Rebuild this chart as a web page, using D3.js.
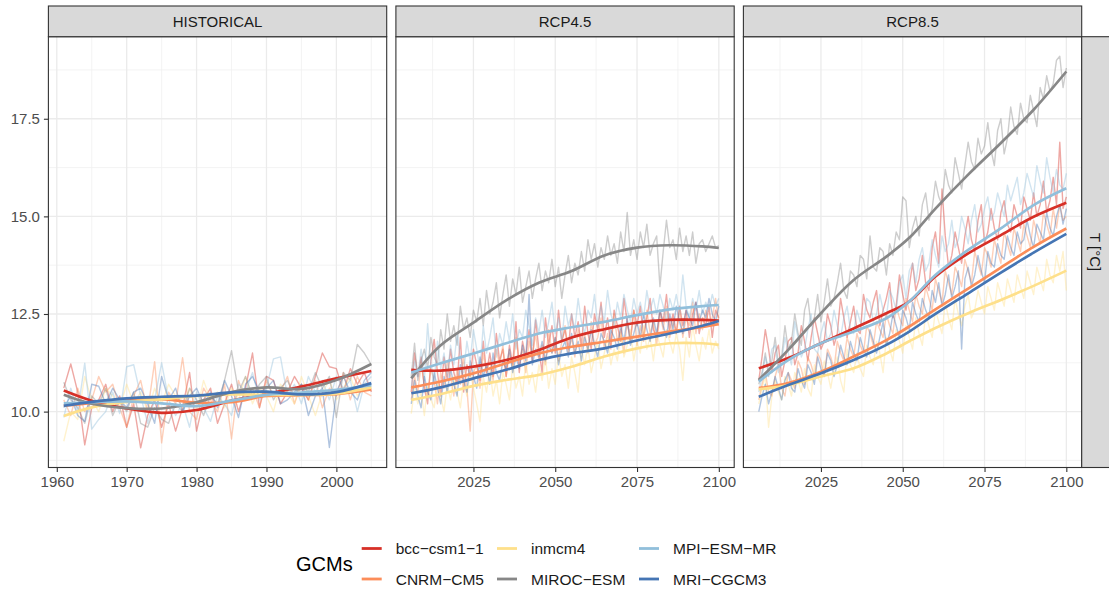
<!DOCTYPE html>
<html>
<head>
<meta charset="utf-8">
<script src="https://cdn.jsdelivr.net/npm/d3@7/dist/d3.min.js"></script>
<style>
  body { margin: 0; background: #fff; }
  text { font-family: "Liberation Sans", Arial, Helvetica, sans-serif; }
</style>
</head>
<body>
<div id="chart"></div>
<script>
// categories
const gcms = ['bcc-csm1-1', 'CNRM-CM5', 'inmcm4', 'MIROC-ESM', 'MPI-ESM-MR', 'MRI-CGCM3'];
const gcmColors = ['#d73027', '#fc8d59', '#fee08b', '#878787', '#91bfdb', '#4575b4'];
const scenarios = ['HISTORICAL', 'RCP4.5', 'RCP8.5'];
const histYears = d3.range(1961, 2006);
const rcpYears = d3.range(2006, 2101);

// annual temperatures, HISTORICAL 1961-2005
const histBcc = [10.6, 11.22, 10.5, 9.15, 10.1, 10.3, 10.7, 10.0, 10.4, 9.6, 10.2, 9.07, 9.9, 10.3, 9.6, 10.2, 9.5, 10.1, 11.0, 9.5, 10.3, 10.6, 9.7, 10.2, 10.7, 10.0, 10.6, 11.5, 10.1, 10.9, 10.8, 10.2, 10.5, 10.9, 10.6, 10.3, 10.9, 11.5, 11.15, 11.1, 10.5, 11.1, 10.7, 11.0, 10.5];
const histCnrm = [10.3, 9.9, 10.6, 10.0, 10.3, 10.9, 10.5, 10.7, 10.1, 9.6, 10.4, 10.8, 10.0, 11.28, 9.2, 10.5, 10.2, 11.38, 10.0, 9.8, 10.6, 10.3, 10.0, 10.7, 9.3, 10.8, 10.3, 10.6, 10.1, 10.8, 10.4, 10.5, 10.9, 10.2, 10.7, 10.3, 10.8, 10.1, 10.6, 10.4, 11.0, 10.3, 10.9, 10.5, 10.4];
const histInm = [9.24, 10.0, 9.8, 10.9, 10.3, 10.0, 10.6, 10.4, 10.1, 10.7, 10.2, 10.5, 10.0, 10.6, 10.2, 10.7, 10.4, 10.1, 10.6, 10.0, 10.8, 10.3, 10.5, 10.1, 10.6, 10.3, 10.9, 10.2, 10.6, 10.4, 10.0, 10.7, 10.5, 10.2, 10.9, 10.4, 9.9, 10.5, 10.8, 10.3, 10.6, 10.9, 10.4, 10.7, 10.6];
const histMiroc = [10.75, 10.3, 10.1, 9.7, 10.4, 10.2, 10.6, 9.9, 10.3, 10.0, 10.5, 9.7, 9.6, 10.1, 9.8, 9.7, 10.2, 10.0, 10.6, 10.3, 9.9, 10.4, 10.2, 10.8, 11.56, 10.5, 10.9, 10.4, 10.7, 10.9, 10.3, 10.6, 10.8, 10.4, 10.7, 10.5, 11.0, 10.6, 10.9, 9.85, 11.0, 10.8, 11.72, 11.5, 11.2];
const histMpi = [9.85, 10.6, 10.0, 11.24, 9.55, 9.8, 10.0, 10.5, 9.95, 11.15, 11.2, 10.4, 9.7, 10.3, 11.25, 10.3, 9.9, 10.2, 9.6, 10.5, 10.1, 9.75, 10.4, 10.2, 9.9, 10.7, 10.5, 11.0, 10.3, 10.6, 11.35, 11.4, 10.4, 10.7, 10.2, 10.9, 10.5, 10.8, 10.3, 10.9, 10.6, 10.8, 10.0, 10.7, 10.9];
const histMri = [10.1, 10.4, 9.9, 9.75, 10.7, 10.65, 10.2, 10.6, 10.3, 10.1, 10.5, 10.6, 10.2, 9.7, 10.9, 10.3, 10.6, 10.0, 10.4, 10.6, 10.2, 10.5, 10.1, 10.8, 10.4, 9.85, 10.7, 10.9, 10.5, 10.6, 10.8, 10.2, 10.3, 10.5, 10.7, 9.9, 10.4, 10.6, 9.08, 10.5, 10.9, 10.5, 10.3, 10.8, 11.0];

// annual temperatures, RCP4.5 2006-2100
const rcp45Bcc = [10.5, 11.5, 10.9, 11.4, 10.6, 10.2, 11.3, 11.85, 11.0, 10.4, 11.4, 10.8, 11.6, 11.0, 10.7, 11.9, 10.5, 11.2, 10.9, 11.6, 11.2, 10.8, 11.8, 11.0, 11.5, 10.9, 12.0, 11.3, 11.6, 10.9, 11.7, 11.2, 12.3, 11.0, 11.8, 11.4, 12.1, 11.3, 12.35, 11.6, 11.0, 12.4, 11.7, 12.2, 11.5, 12.6, 11.8, 12.1, 11.6, 12.5, 11.9, 12.3, 11.7, 12.7, 12.0, 11.6, 12.5, 12.1, 12.8, 11.9, 12.4, 11.7, 12.6, 12.2, 11.8, 12.9, 12.3, 11.8, 12.6, 12.2, 12.7, 11.9, 12.4, 12.9, 12.1, 11.9, 12.6, 12.3, 13.0, 12.1, 12.5, 12.0, 12.7, 12.2, 12.6, 11.9, 12.5, 12.8, 12.0, 12.4, 12.2, 12.7, 11.9, 12.6, 12.4];
const rcp45Cnrm = [10.3, 10.9, 10.5, 11.2, 10.7, 10.4, 11.1, 10.8, 10.2, 11.0, 10.6, 11.3, 10.9, 10.4, 11.1, 10.7, 11.4, 10.6, 9.5, 11.0, 11.2, 10.6, 11.5, 11.0, 11.3, 10.8, 11.6, 11.2, 11.7, 10.9, 11.5, 11.1, 11.9, 11.3, 11.6, 11.0, 11.8, 11.4, 12.0, 11.3, 11.7, 11.2, 12.1, 11.5, 11.9, 11.3, 11.8, 12.2, 11.5, 11.9, 11.4, 12.1, 11.6, 12.0, 11.5, 12.3, 11.7, 11.9, 12.4, 11.6, 12.0, 11.6, 12.5, 11.8, 12.1, 11.5, 12.3, 11.9, 12.6, 11.7, 12.2, 11.8, 12.6, 12.0, 12.3, 11.7, 12.5, 12.1, 12.7, 11.9, 12.3, 12.0, 12.6, 11.9, 12.4, 12.2, 12.8, 12.0, 12.5, 12.1, 12.6, 12.2, 12.4, 12.9, 12.3];
const rcp45Inm = [9.95, 10.6, 10.2, 10.5, 9.9, 10.7, 10.3, 10.1, 10.8, 10.4, 10.0, 10.7, 10.3, 10.9, 10.5, 10.1, 10.8, 10.4, 11.0, 10.6, 10.2, 9.74, 10.9, 10.5, 11.1, 10.4, 10.8, 10.2, 11.0, 10.7, 10.3, 11.2, 10.6, 10.9, 10.4, 11.3, 10.7, 11.0, 10.5, 11.2, 10.8, 11.4, 10.6, 11.1, 10.7, 11.5, 10.9, 11.2, 10.6, 11.4, 11.0, 10.5, 11.6, 11.2, 11.7, 11.0, 11.4, 11.8, 11.1, 11.5, 11.9, 11.2, 11.6, 11.3, 12.0, 11.4, 11.7, 12.1, 11.3, 11.8, 11.5, 12.2, 11.6, 11.9, 11.3, 12.0, 11.7, 11.4, 12.1, 11.8, 11.5, 12.0, 11.6, 10.8, 11.9, 11.4, 12.2, 11.7, 11.3, 11.9, 11.6, 12.1, 11.5, 11.8, 11.6];
const rcp45Miroc = [10.9, 11.75, 10.8, 11.3, 11.6, 11.1, 11.9, 11.4, 11.2, 12.1, 11.6, 12.5, 11.8, 12.2, 11.7, 12.7, 12.1, 12.4, 11.9, 12.6, 12.3, 12.9, 12.2, 13.1, 12.5, 12.8, 13.3, 12.4, 13.0, 13.5, 12.7, 13.4, 13.0, 13.7, 12.8, 13.2, 13.6, 12.9, 13.4, 13.8, 13.1, 13.6, 13.3, 13.9, 13.2, 13.7, 12.9, 13.5, 14.0, 13.3, 13.8, 13.5, 14.1, 13.6, 14.4, 13.9, 14.3, 13.7, 14.2, 13.9, 14.5, 14.0, 14.3, 13.8, 14.6, 14.1, 15.1, 14.0, 14.4, 13.9, 14.6, 14.2, 14.8, 14.0, 14.3, 14.5, 13.2, 14.1, 14.9, 14.2, 14.4, 13.9, 14.7, 14.1, 14.5, 14.0, 14.6, 13.8, 14.3, 14.4, 14.1, 14.3, 14.5, 14.2, 14.25];
const rcp45Mpi = [10.6, 11.3, 10.9, 11.6, 10.8, 12.25, 11.2, 10.7, 11.8, 11.1, 11.5, 10.9, 11.7, 11.2, 12.0, 11.4, 11.0, 11.8, 11.3, 12.1, 11.6, 11.1, 12.2, 11.5, 11.9, 12.4, 11.4, 12.0, 11.7, 12.3, 11.8, 12.5, 11.6, 12.1, 11.9, 12.6, 12.2, 11.7, 12.4, 12.0, 12.6, 11.9, 12.3, 12.8, 12.0, 12.4, 11.8, 12.7, 12.2, 12.5, 12.1, 12.9, 12.3, 12.0, 12.6, 12.4, 13.0, 12.2, 12.7, 12.3, 13.1, 12.5, 12.2, 12.8, 12.4, 13.0, 12.6, 12.3, 12.9, 12.5, 12.8, 12.4, 13.1, 12.6, 12.9, 12.5, 13.0, 12.7, 12.3, 12.9, 12.6, 13.0, 12.5, 13.5, 12.7, 12.4, 12.9, 12.6, 13.1, 12.5, 12.8, 12.6, 13.0, 12.7, 12.9];
const rcp45Mri = [10.2, 10.8, 10.4, 10.1, 10.9, 10.5, 10.3, 11.0, 10.6, 10.2, 10.9, 10.5, 11.1, 10.7, 10.4, 11.2, 10.8, 10.5, 11.3, 10.9, 10.6, 11.4, 10.9, 11.2, 10.7, 11.5, 11.0, 10.8, 11.3, 11.1, 11.6, 11.0, 11.4, 11.1, 11.7, 11.3, 13.0, 11.2, 11.6, 11.4, 11.8, 11.3, 11.7, 11.5, 11.9, 11.2, 11.6, 11.8, 11.4, 12.0, 11.5, 11.8, 11.3, 11.9, 11.6, 12.1, 11.7, 11.4, 12.0, 11.8, 11.5, 12.1, 11.9, 11.6, 12.2, 11.8, 12.4, 11.7, 12.0, 12.3, 11.9, 12.5, 12.1, 11.8, 12.4, 12.0, 12.6, 12.2, 11.9, 12.5, 12.1, 12.7, 12.3, 12.0, 12.6, 12.4, 12.2, 12.8, 12.3, 12.6, 12.4, 12.9, 12.5, 12.3, 12.7];

// annual temperatures, RCP8.5 2006-2100
const rcp85Bcc = [10.8, 11.4, 12.1, 11.6, 11.0, 11.5, 11.7, 10.9, 11.3, 11.8, 11.9, 11.2, 11.5, 12.2, 11.8, 11.3, 11.9, 12.4, 12.0, 11.6, 11.8, 12.5, 12.2, 11.7, 12.0, 12.9, 12.4, 11.9, 12.3, 12.7, 12.1, 12.0, 13.0, 12.6, 12.4, 12.8, 13.1, 12.2, 12.6, 12.9, 13.3, 12.4, 12.7, 13.5, 13.0, 12.6, 13.2, 13.8, 13.1, 13.4, 14.0, 13.3, 13.1, 14.2, 14.6, 13.8, 15.7, 14.5, 13.7, 14.0, 14.6, 14.2, 13.8, 14.5, 15.0, 14.4, 14.1, 14.9, 15.3, 14.3, 14.6, 15.2, 14.7, 14.4, 15.1, 15.4, 14.8, 14.6, 15.3, 15.0, 14.7, 15.5, 15.2, 14.9, 15.6, 15.0, 15.3, 15.9, 15.1, 15.4, 16.0, 15.3, 16.9, 15.2, 15.5];
const rcp85Cnrm = [10.3, 10.7, 11.0, 10.5, 10.4, 10.9, 11.2, 10.6, 10.4, 11.0, 10.8, 10.6, 11.3, 11.1, 10.7, 11.4, 11.2, 10.9, 11.5, 11.3, 10.9, 11.6, 11.4, 11.1, 11.8, 11.5, 11.3, 11.9, 11.6, 11.4, 12.0, 11.7, 11.5, 12.2, 12.0, 11.7, 12.3, 12.1, 11.9, 12.5, 12.2, 12.0, 12.7, 12.4, 12.2, 12.9, 12.6, 12.3, 13.0, 12.7, 12.5, 13.2, 12.9, 12.6, 13.4, 13.1, 12.8, 13.6, 13.3, 13.0, 13.7, 13.5, 13.2, 13.9, 13.6, 13.3, 14.1, 13.8, 13.5, 14.2, 14.0, 13.7, 14.4, 14.1, 13.8, 14.6, 14.3, 14.0, 14.7, 14.4, 14.1, 14.8, 14.5, 14.2, 14.9, 14.6, 14.3, 15.1, 14.8, 14.5, 15.2, 14.7, 15.3, 14.9, 15.0];
const rcp85Inm = [10.2, 10.6, 10.9, 9.6, 10.4, 10.8, 10.5, 10.3, 10.9, 10.7, 10.4, 11.0, 10.8, 10.5, 11.1, 10.6, 10.4, 11.2, 10.9, 10.7, 11.3, 11.0, 10.6, 11.1, 11.4, 10.8, 10.5, 11.6, 11.2, 11.0, 11.5, 11.1, 10.9, 11.7, 11.4, 11.2, 11.8, 11.5, 11.0, 11.9, 11.6, 11.3, 12.1, 11.8, 11.5, 12.2, 11.9, 11.6, 12.4, 12.0, 11.7, 12.5, 12.2, 11.9, 12.6, 12.3, 12.0, 12.8, 12.4, 12.1, 12.9, 12.5, 12.2, 12.7, 13.0, 12.4, 12.6, 13.1, 12.8, 12.5, 13.2, 12.9, 12.6, 13.3, 13.0, 12.7, 13.4, 13.1, 12.8, 13.5, 13.2, 12.9, 13.6, 13.3, 13.0, 13.7, 13.4, 13.1, 13.9, 13.5, 13.3, 14.0, 13.6, 14.1, 13.1];
const rcp85Miroc = [10.7, 11.0, 11.5, 10.9, 11.3, 11.9, 11.2, 11.4, 12.2, 11.6, 11.8, 12.5, 12.0, 11.7, 12.6, 12.9, 12.2, 12.4, 13.0, 12.3, 12.8, 13.4, 12.7, 12.9, 13.3, 13.8, 13.1, 12.9, 13.6, 13.5, 13.2, 14.0, 13.9, 13.4, 14.5, 13.7, 13.6, 14.2, 14.1, 13.5, 14.3, 14.0, 14.6, 14.4, 15.5, 15.4, 14.2, 14.7, 15.0, 14.5, 15.3, 15.6, 14.9, 15.2, 15.9, 15.5, 15.3, 16.2, 15.8, 15.6, 16.5, 16.1, 15.7, 16.3, 16.9, 16.4, 16.2, 17.0, 16.6, 16.8, 17.4, 16.7, 16.3, 17.2, 17.5, 16.6, 17.0, 17.8, 17.3, 17.1, 17.9, 17.5, 17.4, 18.1, 17.7, 17.3, 18.3, 18.0, 18.6, 18.2, 18.4, 19.0, 19.1, 18.3, 18.8];
const rcp85Mpi = [10.5, 10.9, 11.4, 11.1, 11.6, 11.7, 11.0, 11.3, 11.9, 11.5, 11.2, 12.3, 11.9, 11.4, 11.6, 12.1, 12.5, 11.6, 11.5, 12.0, 12.3, 11.8, 12.0, 12.6, 12.2, 11.9, 12.4, 12.7, 12.1, 12.0, 12.6, 12.3, 12.2, 12.9, 12.8, 12.3, 12.5, 13.0, 12.6, 12.4, 13.1, 12.9, 12.6, 13.3, 13.5, 12.9, 13.6, 13.8, 13.3, 13.9, 14.2, 13.6, 13.8, 14.4, 14.0, 13.7, 14.5, 14.1, 14.3, 14.9, 14.2, 14.4, 15.0, 14.7, 14.3, 14.9, 15.3, 14.6, 14.8, 15.2, 15.5, 14.9, 15.1, 15.6, 15.3, 15.0, 15.8, 15.4, 15.7, 16.0, 15.3, 15.6, 16.1, 15.8, 15.5, 16.3, 15.9, 15.6, 16.5, 16.0, 15.6, 16.2, 15.8, 15.7, 16.1];
const rcp85Mri = [10.0, 10.4, 10.7, 10.2, 10.5, 10.9, 10.6, 10.3, 10.8, 11.0, 10.6, 10.5, 11.1, 10.8, 10.6, 11.2, 11.0, 10.7, 11.4, 11.1, 10.9, 11.5, 11.3, 10.9, 11.2, 11.7, 11.4, 11.2, 11.8, 11.5, 11.3, 11.9, 11.6, 11.4, 12.1, 11.8, 11.5, 11.9, 12.3, 11.7, 12.0, 12.5, 12.2, 11.9, 12.6, 12.4, 12.1, 12.8, 12.5, 12.3, 12.9, 12.6, 12.4, 13.1, 12.8, 13.3, 12.7, 13.0, 13.5, 12.9, 13.2, 13.6, 11.6, 13.4, 13.7, 13.2, 13.5, 14.0, 13.6, 13.3, 14.1, 13.8, 13.7, 14.3, 14.0, 13.9, 14.5, 14.2, 14.0, 14.6, 14.3, 14.4, 14.9, 14.5, 14.2, 14.8, 14.6, 14.4, 15.1, 14.7, 14.5, 15.0, 15.3, 14.8, 15.2];

// smoothed trend, read at knot years
const histKnots = [1961, 1965, 1970, 1975, 1980, 1985, 1990, 1995, 2000, 2005];
const histSmBcc = [10.54, 10.28, 10.08, 9.97, 10.04, 10.28, 10.45, 10.64, 10.85, 11.04];
const histSmCnrm = [10.15, 10.22, 10.3, 10.32, 10.23, 10.24, 10.4, 10.42, 10.45, 10.57];
const histSmInm = [9.89, 10.11, 10.25, 10.32, 10.4, 10.44, 10.43, 10.43, 10.46, 10.62];
const histSmMiroc = [10.43, 10.2, 10.09, 10.08, 10.24, 10.5, 10.62, 10.58, 10.81, 11.22];
const histSmMpi = [10.21, 10.24, 10.26, 10.21, 10.14, 10.28, 10.43, 10.49, 10.56, 10.68];
const histSmMri = [10.15, 10.25, 10.34, 10.38, 10.41, 10.49, 10.51, 10.44, 10.5, 10.73];

const rcp45Knots = [2006, 2015, 2025, 2035, 2045, 2055, 2065, 2075, 2085, 2095, 2100];
const rcp45SmBcc = [11.07, 11.05, 11.15, 11.32, 11.58, 11.9, 12.11, 12.28, 12.35, 12.35, 12.33];
const rcp45SmCnrm = [10.62, 10.77, 10.98, 11.24, 11.49, 11.66, 11.79, 11.92, 12.05, 12.17, 12.24];
const rcp45SmInm = [10.3, 10.45, 10.66, 10.81, 10.94, 11.15, 11.41, 11.62, 11.75, 11.75, 11.71];
const rcp45SmMiroc = [10.85, 11.7, 12.28, 12.85, 13.3, 13.6, 14.0, 14.2, 14.26, 14.23, 14.19];
const rcp45SmMpi = [11.0, 11.24, 11.49, 11.75, 12.0, 12.16, 12.3, 12.47, 12.62, 12.7, 12.73];
const rcp45SmMri = [10.47, 10.62, 10.85, 11.07, 11.32, 11.49, 11.62, 11.82, 12.0, 12.2, 12.32];

const rcp85Knots = [2006, 2015, 2025, 2035, 2045, 2052, 2060, 2070, 2080, 2090, 2100];
const rcp85SmBcc = [11.11, 11.37, 11.75, 12.13, 12.52, 12.82, 13.46, 14.05, 14.52, 14.99, 15.35];
const rcp85SmCnrm = [10.6, 10.73, 11.02, 11.41, 11.83, 12.18, 12.62, 13.15, 13.69, 14.22, 14.69];
const rcp85SmInm = [10.57, 10.68, 10.9, 11.11, 11.49, 11.8, 12.14, 12.52, 12.86, 13.22, 13.61];
const rcp85SmMiroc = [10.81, 11.58, 12.52, 13.37, 13.97, 14.45, 15.2, 16.07, 16.88, 17.73, 18.71];
const rcp85SmMpi = [10.77, 11.32, 11.75, 12.05, 12.39, 12.82, 13.5, 14.14, 14.69, 15.29, 15.72];
const rcp85SmMri = [10.38, 10.68, 10.98, 11.32, 11.71, 12.05, 12.5, 13.03, 13.56, 14.07, 14.55];

// axis ticks
const histMajor = [1960, 1970, 1980, 1990, 2000];
const histMinor = [1965, 1975, 1985, 1995, 2005];
const rcpMajor = [2025, 2050, 2075, 2100];
const rcpMinor = [2012.5, 2037.5, 2062.5, 2087.5];
const yMajor = [10, 12.5, 15, 17.5];
const yMinor = [8.75, 11.25, 13.75, 16.25, 18.75];

const panels = [
  { name: scenarios[0], years: histYears, series: [histBcc, histCnrm, histInm, histMiroc, histMpi, histMri],
    knots: histKnots, smooth: [histSmBcc, histSmCnrm, histSmInm, histSmMiroc, histSmMpi, histSmMri],
    major: histMajor, minor: histMinor },
  { name: scenarios[1], years: rcpYears, series: [rcp45Bcc, rcp45Cnrm, rcp45Inm, rcp45Miroc, rcp45Mpi, rcp45Mri],
    knots: rcp45Knots, smooth: [rcp45SmBcc, rcp45SmCnrm, rcp45SmInm, rcp45SmMiroc, rcp45SmMpi, rcp45SmMri],
    major: rcpMajor, minor: rcpMinor },
  { name: scenarios[2], years: rcpYears, series: [rcp85Bcc, rcp85Cnrm, rcp85Inm, rcp85Miroc, rcp85Mpi, rcp85Mri],
    knots: rcp85Knots, smooth: [rcp85SmBcc, rcp85SmCnrm, rcp85SmInm, rcp85SmMiroc, rcp85SmMpi, rcp85SmMri],
    major: rcpMajor, minor: rcpMinor }
];

const width = 1109, height = 592;
const panelTop = 36.7, panelBottom = 467.5;
const panelW = 338.3, panelGap = 9.2, firstLeft = 48.4;
const stripH = 30.7;

const svg = d3.select('#chart').append('svg')
  .attr('width', width)
  .attr('height', height)
  .style('background', '#fff');

// shared y scale with 5% expansion like ggplot
const allVals = panels.flatMap(p => p.series.flat());
const yExt = d3.extent(allVals);
const yPad = (yExt[1] - yExt[0]) * 0.05;
const y = d3.scaleLinear()
  .domain([yExt[0] - yPad, yExt[1] + yPad])
  .range([panelBottom, panelTop]);

const color = d3.scaleOrdinal().domain(gcms).range(gcmColors);

panels.forEach((p, i) => {
  const left = firstLeft + i * (panelW + panelGap);
  const xExt = d3.extent(p.years);
  const xPad = (xExt[1] - xExt[0]) * 0.05;
  const x = d3.scaleLinear()
    .domain([xExt[0] - xPad, xExt[1] + xPad])
    .range([left, left + panelW]);

  const g = svg.append('g').attr('class', 'panel');

  // grid
  g.selectAll('.vminor').data(p.minor).enter().append('line')
    .attr('x1', d => x(d)).attr('x2', d => x(d))
    .attr('y1', panelTop).attr('y2', panelBottom)
    .attr('stroke', '#f0f0f0').attr('stroke-width', 0.8);
  g.selectAll('.hminor').data(yMinor).enter().append('line')
    .attr('x1', left).attr('x2', left + panelW)
    .attr('y1', d => y(d)).attr('y2', d => y(d))
    .attr('stroke', '#f0f0f0').attr('stroke-width', 0.8);
  g.selectAll('.vmajor').data(p.major).enter().append('line')
    .attr('x1', d => x(d)).attr('x2', d => x(d))
    .attr('y1', panelTop).attr('y2', panelBottom)
    .attr('stroke', '#ebebeb').attr('stroke-width', 1.3);
  g.selectAll('.hmajor').data(yMajor).enter().append('line')
    .attr('x1', left).attr('x2', left + panelW)
    .attr('y1', d => y(d)).attr('y2', d => y(d))
    .attr('stroke', '#ebebeb').attr('stroke-width', 1.3);

  // annual lines
  const line = d3.line()
    .x(d => x(d[0]))
    .y(d => y(d[1]));
  p.series.forEach((vals, k) => {
    g.append('path')
      .datum(p.years.map((yr, j) => [yr, vals[j]]))
      .attr('d', line)
      .attr('fill', 'none')
      .attr('stroke', color(gcms[k]))
      .attr('stroke-width', 1.4)
      .attr('stroke-opacity', 0.42)
      .attr('stroke-linejoin', 'round');
  });

  // smoothed lines
  const smoothLine = d3.line()
    .x(d => x(d[0]))
    .y(d => y(d[1]))
    .curve(d3.curveCatmullRom.alpha(0.5));
  p.smooth.forEach((vals, k) => {
    g.append('path')
      .datum(p.knots.map((yr, j) => [yr, vals[j]]))
      .attr('d', smoothLine)
      .attr('fill', 'none')
      .attr('stroke', color(gcms[k]))
      .attr('stroke-width', 2.7)
      .attr('stroke-linecap', 'butt');
  });

  // border
  g.append('rect')
    .attr('x', left).attr('y', panelTop)
    .attr('width', panelW).attr('height', panelBottom - panelTop)
    .attr('fill', 'none').attr('stroke', '#333333').attr('stroke-width', 1.1);

  // strip
  g.append('rect')
    .attr('x', left).attr('y', panelTop - stripH)
    .attr('width', panelW).attr('height', stripH)
    .attr('fill', '#d9d9d9').attr('stroke', '#333333').attr('stroke-width', 1.1);
  g.append('text')
    .attr('x', left + panelW / 2).attr('y', panelTop - stripH / 2)
    .attr('dy', '0.36em')
    .attr('text-anchor', 'middle')
    .attr('font-size', 15)
    .attr('fill', '#1a1a1a')
    .text(p.name);

  // x axis
  const xAxis = g.append('g')
    .attr('transform', `translate(0,${panelBottom})`)
    .call(d3.axisBottom(x).tickValues(p.major).tickFormat(d3.format('d')).tickSize(4.5).tickPadding(4));
  xAxis.select('.domain').remove();
  xAxis.selectAll('line').attr('stroke', '#333333').attr('stroke-width', 1.1);
  xAxis.selectAll('text').attr('font-size', 15).attr('fill', '#4d4d4d')
    .style('font-family', '"Liberation Sans", Arial, sans-serif');

  if (i === 0) {
    const yAxis = g.append('g')
      .attr('transform', `translate(${left},0)`)
      .call(d3.axisLeft(y).tickValues(yMajor).tickFormat(d3.format('.1f')).tickSize(4.5).tickPadding(4));
    yAxis.select('.domain').remove();
    yAxis.selectAll('line').attr('stroke', '#333333').attr('stroke-width', 1.1);
    yAxis.selectAll('text').attr('font-size', 15).attr('fill', '#4d4d4d')
      .style('font-family', '"Liberation Sans", Arial, sans-serif');
  }
});

// right strip
const rightX = firstLeft + 3 * panelW + 2 * panelGap;
svg.append('rect')
  .attr('x', rightX).attr('y', panelTop)
  .attr('width', 30).attr('height', panelBottom - panelTop)
  .attr('fill', '#d9d9d9').attr('stroke', '#333333').attr('stroke-width', 1.1);
svg.append('text')
  .attr('transform', `translate(${rightX + 13.5},${(panelTop + panelBottom) / 2}) rotate(90)`)
  .attr('dy', '0.36em')
  .attr('text-anchor', 'middle')
  .attr('font-size', 15)
  .attr('fill', '#1a1a1a')
  .text('T [°C]');

// legend
const legend = svg.append('g').attr('class', 'legend');
legend.append('text')
  .attr('x', 296).attr('y', 564)
  .attr('dy', '0.36em')
  .attr('font-size', 20)
  .attr('fill', '#000')
  .text('GCMs');

const colX = [361.7, 497, 639];
const rowY = [548.5, 579];
const items = legend.selectAll('.item')
  .data(gcms)
  .enter()
  .append('g')
  .attr('class', 'item')
  .attr('transform', (d, i) => `translate(${colX[Math.floor(i / 2)]},${rowY[i % 2]})`);
items.append('line')
  .attr('x1', 0).attr('x2', 20)
  .attr('stroke', d => color(d))
  .attr('stroke-width', 2.8);
items.append('text')
  .attr('x', 34)
  .attr('dy', '0.36em')
  .attr('font-size', 15.5)
  .attr('fill', '#1a1a1a')
  .text(d => d.replace(/-/g, '\u2212'));
</script>
</body>
</html>
